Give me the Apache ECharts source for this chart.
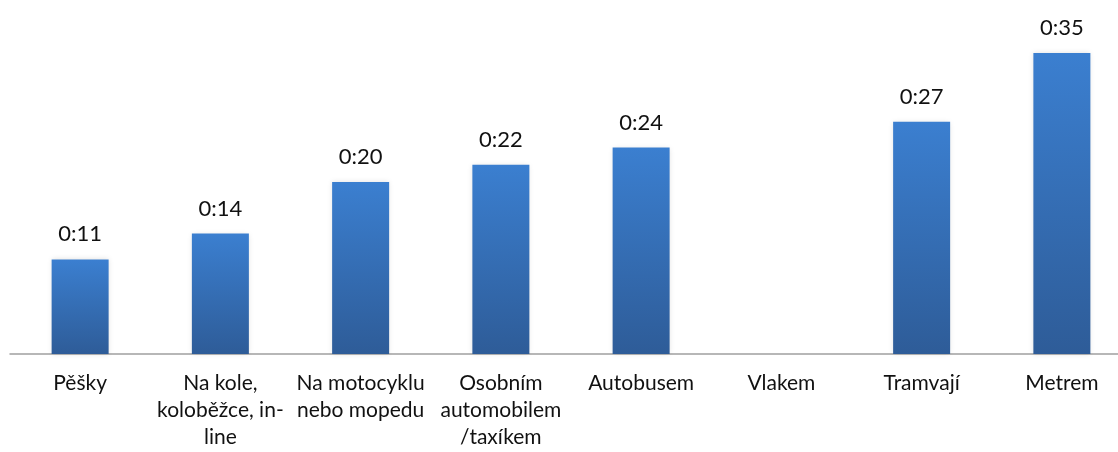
<!DOCTYPE html>
<html>
<head>
<meta charset="utf-8">
<script src="https://cdn.jsdelivr.net/npm/echarts@6/dist/echarts.min.js"></script>
<style>
  html, body { margin: 0; padding: 0; background: #fff; overflow: hidden; }
  #chart { width: 1118px; height: 452px; }
</style>
</head>
<body>
<div id="chart"></div>
<script>
// Mode of transport (labels wrapped as shown under the axis)
const categories = [
  'Pěšky',
  'Na kole,\nkoloběžce, in-\nline',
  'Na motocyklu\nnebo mopedu',
  'Osobním\nautomobilem\n/taxíkem',
  'Autobusem',
  'Vlakem',
  'Tramvají',
  'Metrem'
];
// Average travel time in minutes (no value for train)
const minutes = [11, 14, 20, 22, 24, null, 27, 35];

function toClock(m) {
  const h = Math.floor(m / 60);
  const mm = m % 60;
  return h + ':' + (mm < 10 ? '0' : '') + mm;
}

const chart = echarts.init(document.getElementById('chart'));
chart.setOption({
  animation: false,
  grid: {
    left: 10, width: 1122, top: 10, bottom: 98,
    containLabel: false,
    outerBoundsMode: 'none'
  },
  xAxis: {
    type: 'category',
    data: categories,
    axisLine: { show: true, lineStyle: { color: '#a0a0a0', width: 1.5 } },
    axisTick: { show: false },
    axisLabel: {
      interval: 0,
      margin: 16,
      color: '#111',
      fontFamily: 'Lato',
      fontSize: 21,
      lineHeight: 27
    }
  },
  yAxis: {
    type: 'value',
    min: 0,
    max: 40,
    show: false,
    splitLine: { show: false }
  },
  series: [{
    type: 'bar',
    data: minutes,
    barWidth: 57,
    itemStyle: {
      color: new echarts.graphic.LinearGradient(0, 0, 0, 1, [
        { offset: 0, color: '#3b7fd0' },
        { offset: 1, color: '#2e5c98' }
      ]),
      shadowColor: 'rgba(0,0,0,0.12)',
      shadowBlur: 5
    },
    label: {
      show: true,
      position: 'top',
      distance: 14,
      color: '#111',
      fontFamily: 'Lato',
      fontSize: 22,
      formatter: p => toClock(p.value)
    }
  }]
});
</script>
</body>
</html>
